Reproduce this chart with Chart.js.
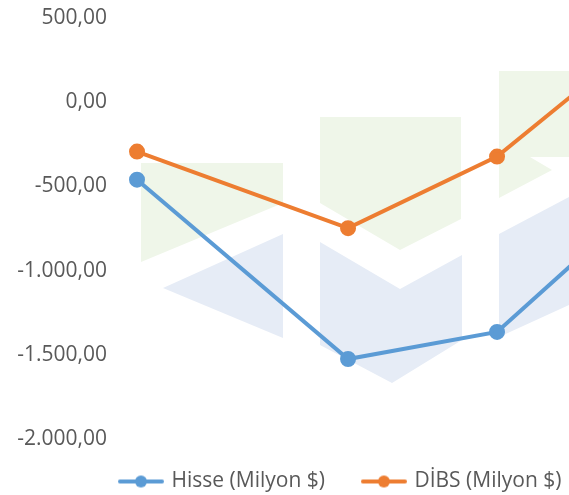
<!DOCTYPE html>
<html>
<head>
<meta charset="utf-8">
<script src="https://cdn.jsdelivr.net/npm/chart.js@4"></script>
<style>
  html, body { margin: 0; padding: 0; background: #ffffff; }
  #wrap { width: 569px; height: 495px; }
</style>
</head>
<body>
<div id="wrap"><canvas id="chart"></canvas></div>
<script>
// series (last point lies past the right edge)
var periods = [0, 1, 1.706, 2.41];
var hisse = [-460, -1525, -1364, -572];
var dibs = [-293, -748, -323, 395];
var seriesNames = ["Hisse (Milyon $)", "DİBS (Milyon $)"];
var yTicks = [500, 0, -500, -1000, -1500, -2000];

var BLUE = "#5B9BD5";
var ORANGE = "#ED7D31";

function trNumber(v) {
  var neg = v < 0;
  var s = Math.abs(v).toFixed(2).split(".");
  var intPart = s[0].replace(/\B(?=(\d{3})+(?!\d))/g, ".");
  return (neg ? "-" : "") + intPart + "," + s[1];
}

function legendMarker(color) {
  var c = document.createElement("canvas");
  c.width = 46;
  c.height = 14;
  var ctx = c.getContext("2d");
  ctx.strokeStyle = color;
  ctx.lineWidth = 4;
  ctx.lineCap = "round";
  ctx.beginPath();
  ctx.moveTo(2, 7);
  ctx.lineTo(44, 7);
  ctx.stroke();
  ctx.fillStyle = color;
  ctx.beginPath();
  ctx.arc(23, 7, 6, 0, Math.PI * 2);
  ctx.fill();
  return c;
}

function toPoints(values) {
  return values.map(function (v, i) { return { x: periods[i], y: v }; });
}

// faint logo behind the lines
var watermark = {
  id: "watermark",
  beforeDatasetsDraw: function (chart) {
    var ctx = chart.ctx;
    var green = "#EFF6E9";
    var blue = "#E6ECF6";
    var shapes = [
      [green, [[141, 163], [283, 163], [283, 203], [141, 262]]],
      [blue, [[163, 288], [283, 234], [283, 338]]],
      [green, [[320, 117], [461, 117], [461, 219], [400, 250], [320, 203]]],
      [blue, [[320, 242], [400, 289], [462, 255], [462, 340], [392, 383], [320, 345]]],
      [green, [[499, 71], [569, 71], [569, 157], [530, 157], [552, 170], [499, 198]]],
      [blue, [[499, 234], [569, 197], [569, 305], [499, 337]]]
    ];
    ctx.save();
    shapes.forEach(function (s) {
      ctx.fillStyle = s[0];
      ctx.beginPath();
      s[1].forEach(function (p, i) {
        if (i === 0) ctx.moveTo(p[0], p[1]); else ctx.lineTo(p[0], p[1]);
      });
      ctx.closePath();
      ctx.fill();
    });
    ctx.restore();
  }
};

// legend sits right of centre in the original
var legendShift = {
  id: "legendShift",
  afterLayout: function (chart) {
    var lg = chart.legend;
    var p = lg.options.labels.padding;
    var dx = 121 - p - lg.left;
    lg.left += dx;
    lg.right += dx;
    lg.top -= 7;
    lg.bottom -= 7;
  }
};

var textColor = "#595959";
var tickFont = { family: "'Open Sans', sans-serif", size: 21 };
var legendFont = { family: "'Open Sans', sans-serif", size: 21 };

new Chart(document.getElementById("chart"), {
  type: "line",
  data: {
    datasets: [
      {
        label: seriesNames[0],
        data: toPoints(hisse),
        borderColor: BLUE,
        backgroundColor: BLUE,
        borderWidth: 4,
        pointRadius: 6,
        tension: 0
      },
      {
        label: seriesNames[1],
        data: toPoints(dibs),
        borderColor: ORANGE,
        backgroundColor: ORANGE,
        borderWidth: 4,
        pointRadius: 6,
        tension: 0
      }
    ]
  },
  plugins: [watermark, legendShift],
  options: {
    responsive: true,
    maintainAspectRatio: false,
    animation: false,
    layout: { autoPadding: false, padding: { top: 18, right: 0, bottom: -14, left: 0 } },
    scales: {
      x: {
        type: "linear",
        display: false,
        min: -0.0806,
        max: 2.047
      },
      y: {
        min: Math.min.apply(null, yTicks),
        max: Math.max.apply(null, yTicks),
        afterFit: function (scale) {
          scale.width = 120;
          scale.paddingTop = 0;
          scale.paddingBottom = 0;
        },
        afterBuildTicks: function (scale) {
          scale.ticks = yTicks.slice().reverse().map(function (v) { return { value: v }; });
        },
        grid: { display: false, drawTicks: false },
        border: { display: false },
        ticks: {
          color: textColor,
          font: tickFont,
          padding: 13,
          callback: function (v) { return trNumber(v); }
        }
      }
    },
    plugins: {
      tooltip: { enabled: false },
      legend: {
        position: "bottom",
        align: "start",
        labels: {
          color: textColor,
          font: legendFont,
          usePointStyle: true,
          pointStyleWidth: 40,
          padding: 39,
          generateLabels: function (chart) {
            return chart.data.datasets.map(function (ds, i) {
              return {
                text: ds.label,
                pointStyle: legendMarker(ds.borderColor),
                fillStyle: ds.borderColor,
                strokeStyle: ds.borderColor,
                lineWidth: 0,
                fontColor: textColor,
                datasetIndex: i,
                hidden: false
              };
            });
          }
        }
      }
    }
  }
});
</script>
</body>
</html>
